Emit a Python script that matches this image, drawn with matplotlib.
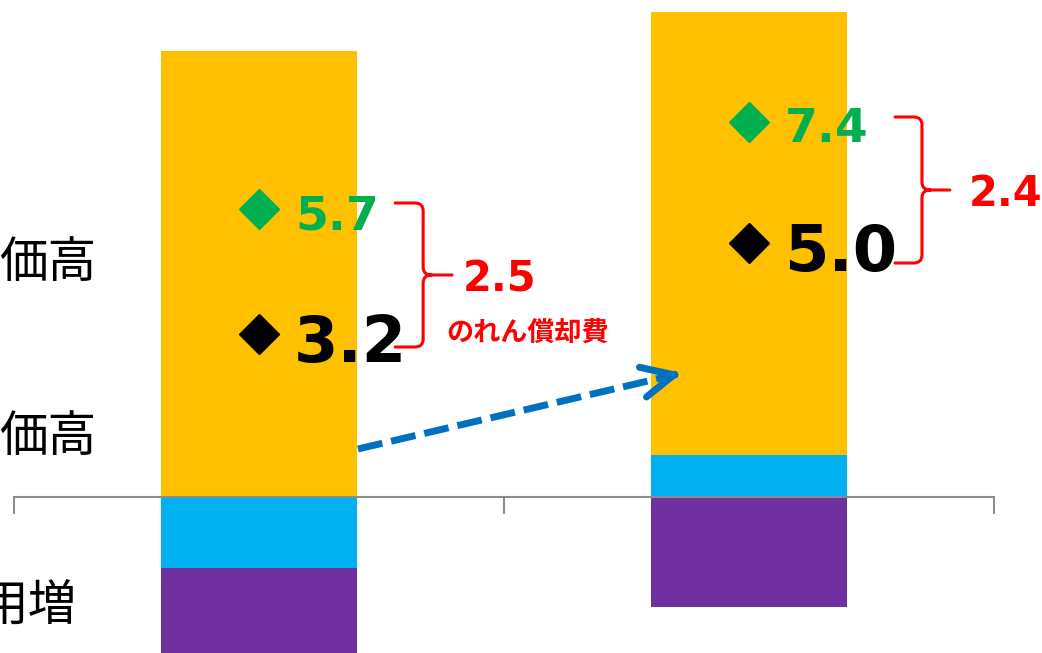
import matplotlib
matplotlib.use('Agg')
import matplotlib.pyplot as plt
import numpy as np
from matplotlib.path import Path
from matplotlib.patches import PathPatch

# フォント設定
plt.rcParams['font.family'] = ['Noto Sans CJK JP', 'DejaVu Sans']

# データ（縦軸の単位は任意）
categories = ['A', 'B']
blue_vals = [-7.1, 4.2]
yellow_vals = [44.6, 44.3]
purple_vals = [-10.0, -11.0]

green_vals = [28.8, 37.5]          # 緑マーカーの位置
black_vals = [16.3, 25.4]          # 黒マーカーの位置
green_labels = ['5.7', '7.4']
black_labels = ['3.2', '5.0']
diff_labels = ['2.5', '2.4']
left_labels = ['価高', '価高', '用増']

c_yellow = '#FFC000'
c_blue = '#00B0F0'
c_purple = '#7030A0'
c_green = '#00B050'
c_red = '#FF0000'
c_arrow = '#0070C0'

fig = plt.figure(figsize=(10.42, 6.53), dpi=100)
ax = fig.add_axes([14 / 1042, 0, 980 / 1042, 1])

x = np.array([0.5, 1.5])
w = 0.4
blue = np.array(blue_vals)
yellow = np.array(yellow_vals)
purple = np.array(purple_vals)

# 積み上げ棒（正は上、負は下に積む）
ax.bar(x, blue, w, color=c_blue, zorder=2)
yb = np.where(blue > 0, blue, 0)
ax.bar(x, yellow, w, bottom=yb, color=c_yellow, zorder=2)
pb = np.where(blue < 0, blue, 0)
ax.bar(x, purple, w, bottom=pb, color=c_purple, zorder=2)

ax.set_xlim(0, 2)
ax.set_ylim(-15.6, 49.7)

# 軸の体裁
for s in ['top', 'right', 'left']:
    ax.spines[s].set_visible(False)
ax.spines['bottom'].set_position(('data', 0))
ax.spines['bottom'].set_color('#8C8C8C')
ax.spines['bottom'].set_linewidth(1.5)
ax.spines['bottom'].set_zorder(3)
ax.set_xticks([0, 1, 2])
ax.set_xticklabels([])
ax.set_yticks([])
ax.tick_params(axis='x', length=12, width=1.5, color='#8C8C8C', direction='out')
ax.patch.set_alpha(0)

# マーカーと数値
for i in range(2):
    ax.plot(x[i], green_vals[i], marker='D', ms=20, color=c_green, zorder=5)
    ax.plot(x[i], black_vals[i], marker='D', ms=20, color='black', zorder=5)
    ax.annotate(green_labels[i], (x[i], green_vals[i]), xytext=(26, -14.5),
                textcoords='offset points', ha='left', va='baseline',
                fontsize=34, fontweight='bold', color=c_green,
                family='DejaVu Sans', zorder=6)
    ax.annotate(black_labels[i], (x[i], black_vals[i]), xytext=(25, -20.5),
                textcoords='offset points', ha='left', va='baseline',
                fontsize=46, fontweight='bold', color='black',
                family='DejaVu Sans', zorder=6)


# 波括弧
def brace(xl, xv, xt, yt, yb_, rx=0.017, ry=0.8):
    ym = (yt + yb_) / 2
    verts = [(xl, yt), (xv - rx, yt), (xv, yt), (xv, yt - ry),
             (xv, ym + ry), (xv, ym), (xv + rx, ym), (xt, ym),
             (xv + rx, ym), (xv, ym), (xv, ym - ry),
             (xv, yb_ + ry), (xv, yb_), (xv - rx, yb_), (xl, yb_)]
    codes = [Path.MOVETO, Path.LINETO, Path.CURVE3, Path.CURVE3,
             Path.LINETO, Path.CURVE3, Path.CURVE3, Path.LINETO,
             Path.MOVETO, Path.CURVE3, Path.CURVE3,
             Path.LINETO, Path.CURVE3, Path.CURVE3, Path.LINETO]
    ax.add_patch(PathPatch(Path(verts, codes), fill=False, ec=c_red,
                           lw=2.2, capstyle='round', joinstyle='round', zorder=6))
    return ym


ym1 = brace(0.778, 0.835, 0.894, 29.4, 15.0)
ym2 = brace(1.798, 1.853, 1.910, 38.0, 23.4)

ax.text(0.915, ym1 - 0.4, diff_labels[0], fontsize=30, fontweight='bold',
        color=c_red, family='DejaVu Sans', ha='left', va='center')
ax.text(0.882, 16.4, 'のれん償却費', fontsize=19.5, fontweight='bold',
        color=c_red, ha='left', va='center')
ax.text(1.949, ym2 - 0.4, diff_labels[1], fontsize=30, fontweight='bold',
        color=c_red, family='DejaVu Sans', ha='left', va='center')

# 点線の矢印
p0 = (0.702, 4.8)
p1 = (1.363, 12.4)
ax.plot([p0[0], p1[0] - 0.01], [p0[1], p1[1] - 0.12], color=c_arrow, lw=5,
        ls=(0, (3.6, 1.3)), solid_capstyle='butt', dash_capstyle='butt', zorder=4)
ax.annotate('', xy=p1, xytext=(p1[0] - 0.02, p1[1] - 0.23),
            arrowprops=dict(arrowstyle='->,head_length=1.15,head_width=0.55',
                            lw=5, color=c_arrow, capstyle='round',
                            joinstyle='round', shrinkA=0, shrinkB=0,
                            mutation_scale=20), zorder=4)

# 左側のラベル（切れている）
fig.text(96 / 1042, 1 - 263 / 653, left_labels[0], fontsize=35, ha='right', va='center')
fig.text(96 / 1042, 1 - 437 / 653, left_labels[1], fontsize=35, ha='right', va='center')
fig.text(77 / 1042, 1 - 607 / 653, left_labels[2], fontsize=35, ha='right', va='center')

fig.savefig('out.png', dpi=100)
